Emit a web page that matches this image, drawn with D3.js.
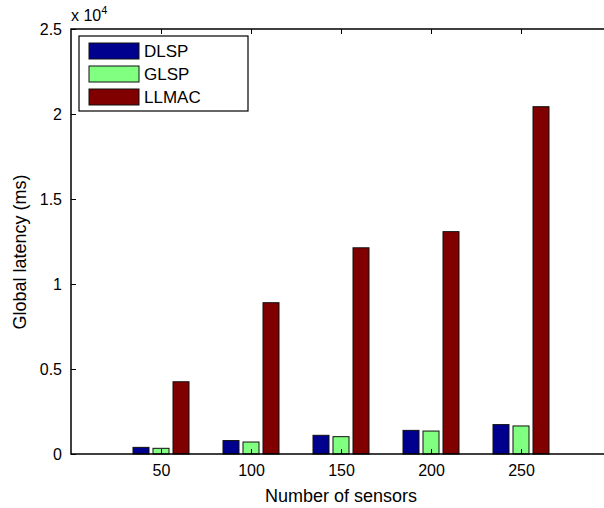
<!DOCTYPE html>
<html>
<head>
<meta charset="utf-8">
<script src="https://cdn.jsdelivr.net/npm/d3@7"></script>
<style>
    body { margin: 0; background: #fff; }
    svg { font-family: Arial, "Liberation Sans", Helvetica, sans-serif; }
    .axis text { font-size: 16px; fill: #000; }
    .axis line { stroke: #000; }
    .axis-title { font-size: 18px; fill: #000; }
    .legend text { font-size: 17px; fill: #000; }
</style>
</head>
<body>
<svg id="chart"></svg>
<script>
// data
const sensors = [50, 100, 150, 200, 250];
const seriesNames = ['DLSP', 'GLSP', 'LLMAC'];
const dlsp = [390, 790, 1100, 1390, 1730];
const glsp = [335, 705, 1020, 1350, 1650];
const llmac = [4250, 8900, 12130, 13080, 20430];
const yTickValues = [0, 5000, 10000, 15000, 20000, 25000];
const yTickLabels = ['0', '0.5', '1', '1.5', '2', '2.5'];
const colors = ['#00008f', '#80ff80', '#800000'];

class GroupedBarChart {

    constructor(_config, _data) {
        this.config = {
            parentElement: _config.parentElement,
            containerWidth: _config.containerWidth || 604,
            containerHeight: _config.containerHeight || 508,
            margin: _config.margin || {top: 29, right: 0, bottom: 54, left: 71},
            plotWidth: _config.plotWidth || 540
        }
        this.data = _data;
        this.initVis();
    }

    initVis() {
        let vis = this;

        vis.width = vis.config.plotWidth;
        vis.height = vis.config.containerHeight - vis.config.margin.top - vis.config.margin.bottom;

        // scales
        vis.xScale = d3.scaleLinear()
            .domain([0, 300])
            .range([0, vis.width]);
        vis.yScale = d3.scaleLinear()
            .domain([0, 25000])
            .range([vis.height, 0]);

        // bars inside one group (matlab style: group spans 2/3 of the spacing)
        const groupWidth = (vis.xScale(50) - vis.xScale(0)) * 3 / 4.5;
        vis.innerScale = d3.scaleBand()
            .domain(seriesNames)
            .range([-groupWidth / 2, groupWidth / 2])
            .paddingInner(0.2)
            .paddingOuter(0.1);

        vis.colorScale = d3.scaleOrdinal()
            .domain(seriesNames)
            .range(colors);

        vis.svg = d3.select(vis.config.parentElement)
            .attr('width', vis.config.containerWidth)
            .attr('height', vis.config.containerHeight);

        vis.chart = vis.svg.append('g')
            .attr('transform', `translate(${vis.config.margin.left},${vis.config.margin.top})`);

        // axes, ticks point inwards
        vis.xAxis = d3.axisBottom(vis.xScale)
            .tickValues(sensors)
            .tickSize(-5)
            .tickPadding(11);
        vis.xAxisTop = d3.axisTop(vis.xScale)
            .tickValues(sensors)
            .tickSize(-5)
            .tickFormat('');
        vis.yAxis = d3.axisLeft(vis.yScale)
            .tickValues(yTickValues)
            .tickSize(-5)
            .tickPadding(9)
            .tickFormat((d, i) => yTickLabels[i]);

        vis.barsG = vis.chart.append('g');

        vis.xAxisG = vis.chart.append('g')
            .attr('class', 'axis x-axis')
            .attr('transform', `translate(0,${vis.height})`);
        vis.xAxisTopG = vis.chart.append('g')
            .attr('class', 'axis x-axis-top');
        vis.yAxisG = vis.chart.append('g')
            .attr('class', 'axis y-axis');

        // box
        vis.chart.append('rect')
            .attr('width', vis.width)
            .attr('height', vis.height)
            .attr('fill', 'none')
            .attr('stroke', '#000')
            .attr('stroke-width', 1.5);

        // exponent label
        const expo = vis.chart.append('text')
            .attr('x', 0)
            .attr('y', -8)
            .style('font-size', '16px');
        expo.append('tspan').text('x 10');
        expo.append('tspan')
            .attr('dy', -7)
            .style('font-size', '11px')
            .text('4');

        vis.svg.append('text')
            .attr('class', 'axis-title')
            .attr('x', vis.config.margin.left + vis.width / 2)
            .attr('y', 502)
            .style('text-anchor', 'middle')
            .text('Number of sensors');

        vis.svg.append('text')
            .attr('class', 'axis-title')
            .attr('transform', `translate(26,252) rotate(-90)`)
            .style('text-anchor', 'middle')
            .text('Global latency (ms)');

        vis.legendG = vis.chart.append('g')
            .attr('class', 'legend')
            .attr('transform', 'translate(8,7)');
    }

    renderVis() {
        let vis = this;

        vis.barsG.selectAll('.group')
            .data(vis.data)
            .join('g')
            .attr('class', 'group')
            .attr('transform', d => `translate(${vis.xScale(d.sensors)},0)`)
            .selectAll('rect')
            .data(d => seriesNames.map(s => ({key: s, value: d[s]})))
            .join('rect')
            .attr('x', d => vis.innerScale(d.key))
            .attr('width', vis.innerScale.bandwidth())
            .attr('y', d => vis.yScale(d.value))
            .attr('height', d => vis.height - vis.yScale(d.value))
            .attr('fill', d => vis.colorScale(d.key))
            .attr('stroke', '#111')
            .attr('stroke-width', 1);

        vis.xAxisG.call(vis.xAxis).call(g => g.select('.domain').remove());
        vis.xAxisTopG.call(vis.xAxisTop).call(g => g.select('.domain').remove());
        vis.yAxisG.call(vis.yAxis).call(g => g.select('.domain').remove());

        // legend
        vis.legendG.append('rect')
            .attr('width', 169)
            .attr('height', 75)
            .attr('fill', '#fff')
            .attr('stroke', '#000')
            .attr('stroke-width', 1.2);

        const items = vis.legendG.selectAll('.item')
            .data(seriesNames)
            .join('g')
            .attr('class', 'item')
            .attr('transform', (d, i) => `translate(10,${7 + i * 23})`);

        items.append('rect')
            .attr('width', 50)
            .attr('height', 16)
            .attr('fill', d => vis.colorScale(d))
            .attr('stroke', '#111');

        items.append('text')
            .attr('x', 55)
            .attr('y', 8)
            .attr('dy', '0.36em')
            .text(d => d);
    }
}

const tableData = sensors.map((s, i) => ({
    sensors: s,
    DLSP: dlsp[i],
    GLSP: glsp[i],
    LLMAC: llmac[i]
}));

const chart = new GroupedBarChart({parentElement: '#chart'}, tableData);
chart.renderVis();
</script>
</body>
</html>
